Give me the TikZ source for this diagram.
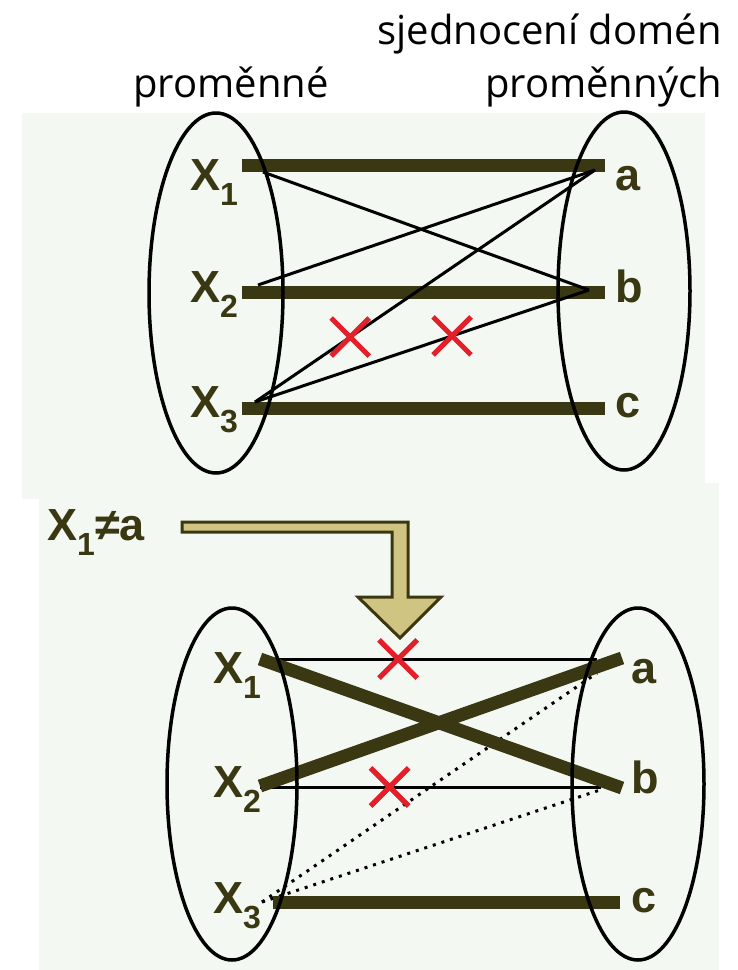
\documentclass[tikz,border=0pt]{standalone}
\usepackage{fontspec}
\setmainfont{Liberation Sans}
\newfontfamily\headfont{Open Sans}
\usepackage{xcolor}
\usepackage{tikz}
\usetikzlibrary{shapes.geometric, shapes.misc, calc}
\definecolor{ink}{HTML}{3A3812}
\definecolor{paper}{HTML}{F4F8F2}
\definecolor{sand}{HTML}{D0C482}
\definecolor{cutred}{HTML}{E3202A}
\newcommand\lowidx[1]{\raisebox{-15pt}{\fontsize{32}{32}\selectfont #1}}

\begin{document}
\begin{tikzpicture}[x=1pt, y=-1pt,
  dombox/.style={ellipse, draw=black, line width=3.5pt, inner sep=0pt},
  lab/.style={font=\fontsize{45}{45}\selectfont\bfseries, text=ink,
              inner sep=0pt, anchor=base west},
  head/.style={font=\headfont\fontsize{40}{43}\selectfont, inner sep=0pt},
  pair/.style={draw=ink, line width=13pt},
  link/.style={draw=black, line width=3pt},
  maybe/.style={draw=black, line width=3pt, dash pattern=on 3pt off 6pt},
  cut/.style={cross out, draw=cutred, line width=5pt, minimum size=33pt,
              inner sep=0pt},
  fat/.style={draw=ink, fill=sand, line width=3pt, line join=miter}
]
  \useasboundingbox (0,0) rectangle (737,970);
  \fill[white] (0,0) rectangle (737,970);
  \fill[paper] (22,113) rectangle (705,499);
  \fill[paper] (39,483) rectangle (719,970);

  % headings
  \node[head, anchor=base east] (domhead) at (722,44) {sjednocení domén};
  \node[head, anchor=base east] (valhead) at (722,97) {proměnných};
  \node[head, anchor=base west] (varhead) at (133,97) {proměnné};

  % upper graph
  \coordinate (x1) at (242,165);  \coordinate (a) at (605,165);
  \coordinate (x2) at (242,292);  \coordinate (b) at (605,292);
  \coordinate (x3) at (242,408);  \coordinate (c) at (605,408);
  \coordinate (x1s) at (263,172); \coordinate (as) at (595,170);
  \coordinate (x2s) at (258,285); \coordinate (bs) at (589,290);
  \coordinate (x3s) at (255,402);

  \draw[pair] (x1) -- (a);
  \draw[pair] (x2) -- (b);
  \draw[pair] (x3) -- (c);
  \draw[link] (x1s) -- (bs);
  \draw[link] (x2s) -- (as);
  \draw[link] (x3s) -- node[cut, pos=0.28] (cut1) {} (as);
  \draw[link] (x3s) -- node[cut, pos=0.59] (cut2) {} (bs);

  \node[dombox, minimum width=134pt, minimum height=360pt] (vars) at (216,293) {};
  \node[dombox, minimum width=132pt, minimum height=358pt] (vals) at (624,291) {};

  \node[lab] (lx1) at (190,190) {X\lowidx{1}};
  \node[lab] (lx2) at (190,302) {X\lowidx{2}};
  \node[lab] (lx3) at (190,417) {X\lowidx{3}};
  \node[lab] (la) at (615,190) {a};
  \node[lab] (lb) at (615,302) {b};
  \node[lab] (lc) at (615,417) {c};

  % the new constraint
  \node[lab] (cond) at (47,540) {X\lowidx{1}≠a};
  \coordinate (tail) at (182,527);
  \coordinate (tip) at (400,638);
  \draw[fat] ($(tail)+(0,-5)$) -- ($(tip |- tail)+(8,-5)$) -- ($(tip)+(8,-41)$)
    -- ($(tip)+(41,-41)$) -- (tip) -- ($(tip)+(-42,-41)$) -- ($(tip)+(-8,-41)$)
    -- ($(tip |- tail)+(-8,5)$) -- ($(tail)+(0,5)$) -- cycle;

  % lower graph
  \coordinate (y1) at (260,659);  \coordinate (ya) at (622,658);
  \coordinate (y2) at (260,786);  \coordinate (yb) at (622,788);
  \coordinate (y3) at (273,902);  \coordinate (yc) at (620,902);
  \coordinate (yas) at (597,659); \coordinate (ybs) at (601,787);
  \coordinate (y3s) at (262,902);
  \coordinate (yad) at (597,673); \coordinate (ybd) at (603,789);

  \draw[link] (y1) -- node[cut, pos=0.41] (cut3) {} (yas);
  \draw[link] (y2 |- ybs) -- node[cut, pos=0.38] (cut4) {} (ybs);
  \draw[maybe] (y3s) -- (yad);
  \draw[maybe] (y3s) -- (ybd);
  \draw[pair] (y1) -- (yb);
  \draw[pair] (y2) -- (ya);
  \draw[pair] (y3) -- (yc);
  \node[cut] at (cut3) {};
  \node[cut] at (cut4) {};

  \node[dombox, minimum width=130pt, minimum height=352pt] (vars2) at (232,784) {};
  \node[dombox, minimum width=132pt, minimum height=352pt] (vals2) at (638,784) {};

  \node[lab] (ly1) at (213,683) {X\lowidx{1}};
  \node[lab] (ly2) at (213,797) {X\lowidx{2}};
  \node[lab] (ly3) at (213,913) {X\lowidx{3}};
  \node[lab] (lya) at (631,683) {a};
  \node[lab] (lyb) at (631,793) {b};
  \node[lab] (lyc) at (631,912) {c};
\end{tikzpicture}
\end{document}
